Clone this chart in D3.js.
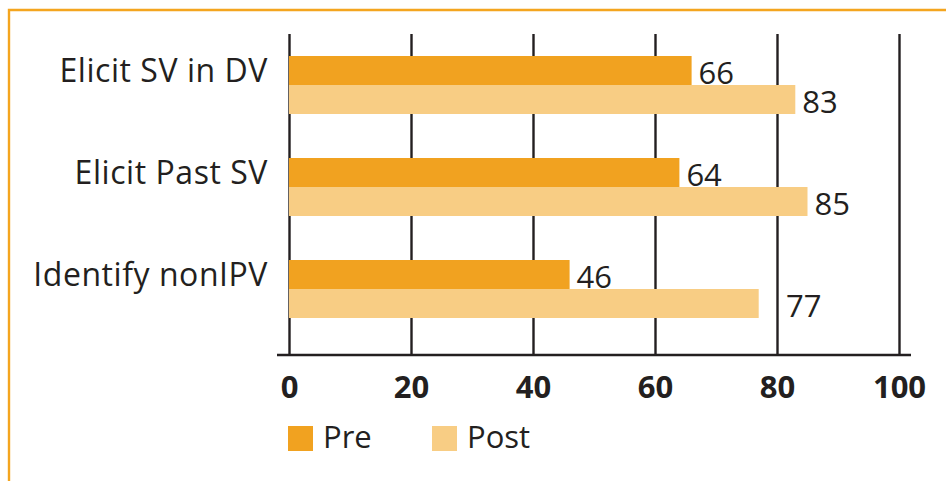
<!DOCTYPE html>
<html>
<head>
<meta charset="utf-8">
<script src="https://cdn.jsdelivr.net/npm/d3@7/dist/d3.min.js"></script>
<style>
  html, body { margin: 0; padding: 0; background: #fff; }
  svg { display: block; }
  text { font-family: "Open Sans", "Noto Sans", sans-serif; fill: #231f20; }
</style>
</head>
<body>
<svg id="chart" width="946" height="481"></svg>
<script>
// Survey items and pre/post scores (%)
const categories = ["Elicit SV in DV", "Elicit Past SV", "Identify nonIPV"];
const seriesNames = ["Pre", "Post"];
const preValues = [66, 64, 46];
const postValues = [83, 85, 77];
const tickValues = [0, 20, 40, 60, 80, 100];

const colors = { Pre: "#f1a220", Post: "#f8cd84" };
const ink = "#231f20";

const svg = d3.select("#chart");

// Frame around the figure
svg.append("path")
  .attr("d", "M9,490 L9,10 L960,10")
  .attr("fill", "none")
  .attr("stroke", "#f4a51f")
  .attr("stroke-width", 2.4);

const plotTop = 34, axisY = 355;

const x = d3.scaleLinear().domain([0, 100]).range([289, 899]);
const y = d3.scalePoint().domain(categories).range([85, 289]);
const inner = d3.scaleBand().domain(seriesNames).range([-29, 29]);

// Gridlines with tick labels
const axis = d3.axisBottom(x)
  .tickValues(tickValues)
  .tickSize(-(axisY - plotTop))
  .tickPadding(14)
  .tickFormat(d3.format("d"));

const gAxis = svg.append("g")
  .attr("transform", `translate(0,${axisY})`)
  .call(axis);
gAxis.select(".domain").remove();
gAxis.selectAll(".tick line")
  .attr("stroke", ink)
  .attr("stroke-width", 2.4);
gAxis.selectAll(".tick text")
  .attr("fill", ink)
  .style("font-size", "31px")
  .style("font-weight", "700")
  .attr("dy", "0.92em");

// Data rows
const rows = categories.map((c, i) => ({
  category: c,
  values: [
    { key: "Pre", value: preValues[i] },
    { key: "Post", value: postValues[i] }
  ]
}));

const gRows = svg.append("g").selectAll("g")
  .data(rows)
  .join("g")
  .attr("transform", d => `translate(0,${y(d.category)})`);

gRows.selectAll("rect")
  .data(d => d.values)
  .join("rect")
  .attr("x", x(0))
  .attr("y", d => inner(d.key))
  .attr("width", d => x(d.value) - x(0))
  .attr("height", inner.bandwidth())
  .attr("fill", d => colors[d.key]);

// Value labels; nudged past a gridline when they would sit on top of it
const labelGap = 7, labelWidth = 34;
function labelX(v) {
  let lx = x(v) + labelGap;
  tickValues.forEach(t => {
    const gx = x(t);
    if (gx > x(v) && gx < lx + labelWidth) lx = gx + 9;
  });
  return lx;
}

gRows.selectAll("text.value")
  .data(d => d.values)
  .join("text")
  .attr("class", "value")
  .attr("x", d => labelX(d.value))
  .attr("y", d => inner(d.key) + inner.bandwidth() / 2 + 2)
  .attr("dy", "0.36em")
  .style("font-size", "31px")
  .text(d => d.value);

// Category labels
svg.append("g").selectAll("text")
  .data(categories)
  .join("text")
  .attr("x", 268)
  .attr("y", d => y(d) - 3)
  .attr("text-anchor", "end")
  .style("font-size", "32px")
  .style("letter-spacing", "0.55px")
  .text(d => d);

// Baseline axis line
svg.append("line")
  .attr("x1", 277).attr("x2", 911)
  .attr("y1", axisY).attr("y2", axisY)
  .attr("stroke", ink)
  .attr("stroke-width", 2.6);

// Legend
const legendX = d3.scaleOrdinal().domain(seriesNames).range([288, 432]);
const gLegend = svg.append("g").selectAll("g")
  .data(seriesNames)
  .join("g")
  .attr("transform", d => `translate(${legendX(d)},426)`);
gLegend.append("rect")
  .attr("width", 25).attr("height", 25)
  .attr("fill", d => colors[d]);
gLegend.append("text")
  .attr("x", 35)
  .attr("y", 22)
  .style("font-size", "31px")
  .text(d => d);
</script>
</body>
</html>
